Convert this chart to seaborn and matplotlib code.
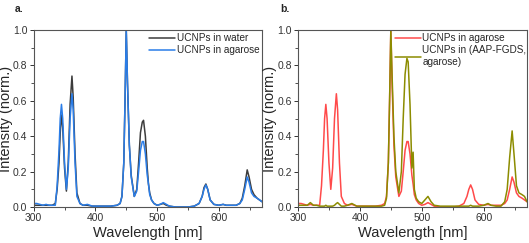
import matplotlib
matplotlib.use("Agg")
import matplotlib.pyplot as plt
from matplotlib.ticker import MultipleLocator
import seaborn as sns
import pandas as pd

# wavelength grid (nm)
wavelength = [300, 305, 310, 315, 320, 325, 330, 335, 338, 341, 343, 345, 347, 350, 353, 356, 359, 362,
              364, 367, 370, 375, 380, 387, 395, 405, 415, 425, 435, 440, 443, 446, 448, 450, 452, 455,
              458, 463, 467, 470, 473, 476, 478, 481, 484, 486, 488, 491, 495, 500, 505, 510, 515, 520,
              530, 540, 550, 560, 568, 573, 576, 579, 582, 586, 592, 600, 607, 612, 620, 628, 634, 638,
              642, 646, 649, 653, 657, 662, 666, 670]

ucnp_water = [0.01, 0.01, 0.01, 0.01, 0.01, 0.01, 0.01, 0.02, 0.10, 0.25, 0.42, 0.52, 0.45, 0.22, 0.09, 0.25, 0.58, 0.74,
              0.62, 0.30, 0.08, 0.02, 0.01, 0.01, 0.005, 0.005, 0.005, 0.005, 0.01, 0.02, 0.06, 0.25, 0.60, 1.0, 0.70, 0.35,
              0.18, 0.06, 0.10, 0.25, 0.42, 0.48, 0.49, 0.40, 0.22, 0.13, 0.08, 0.04, 0.02, 0.01, 0.015, 0.02, 0.01, 0.005,
              0.0, 0.0, 0.0, 0.005, 0.02, 0.06, 0.11, 0.13, 0.10, 0.04, 0.015, 0.01, 0.015, 0.01, 0.01, 0.01, 0.02, 0.05,
              0.12, 0.21, 0.17, 0.10, 0.07, 0.05, 0.04, 0.03]

ucnp_agarose = [0.02, 0.02, 0.015, 0.01, 0.015, 0.01, 0.01, 0.01, 0.12, 0.32, 0.50, 0.58, 0.50, 0.25, 0.10, 0.22, 0.50, 0.64,
                0.55, 0.25, 0.06, 0.02, 0.01, 0.015, 0.005, 0.005, 0.005, 0.005, 0.01, 0.02, 0.06, 0.25, 0.60, 1.0, 0.70, 0.35,
                0.17, 0.06, 0.09, 0.20, 0.32, 0.37, 0.37, 0.30, 0.18, 0.13, 0.07, 0.04, 0.02, 0.01, 0.015, 0.025, 0.015, 0.005,
                0.0, 0.0, 0.0, 0.005, 0.02, 0.06, 0.10, 0.125, 0.10, 0.04, 0.015, 0.01, 0.015, 0.01, 0.01, 0.01, 0.02, 0.04,
                0.10, 0.17, 0.14, 0.08, 0.06, 0.05, 0.04, 0.03]

ucnp_aap = [0.01, 0.01, 0.01, 0.01, 0.025, 0.01, 0.01, 0.005, 0.005, 0.005, 0.005, 0.01, 0.005, 0.005, 0.005, 0.005, 0.01, 0.02,
            0.025, 0.015, 0.005, 0.005, 0.01, 0.02, 0.005, 0.005, 0.005, 0.005, 0.005, 0.01, 0.05, 0.25, 0.60, 1.0, 0.75, 0.40,
            0.20, 0.08, 0.20, 0.50, 0.75, 0.84, 0.82, 0.58, 0.22, 0.31, 0.10, 0.05, 0.03, 0.02, 0.04, 0.06, 0.03, 0.01,
            0.005, 0.005, 0.005, 0.005, 0.005, 0.005, 0.005, 0.01, 0.005, 0.005, 0.005, 0.01, 0.02, 0.01, 0.005, 0.005, 0.03, 0.10,
            0.28, 0.43, 0.30, 0.12, 0.08, 0.07, 0.06, 0.03]

df = pd.DataFrame({"wl": wavelength, "water": ucnp_water, "agarose": ucnp_agarose, "aap": ucnp_aap})

sns.set_style("ticks")
plt.rcParams["font.family"] = ["Liberation Sans", "DejaVu Sans"]

fig = plt.figure(figsize=(5.29, 2.43), dpi=100)
ax_a = fig.add_axes([0.0637, 0.148, 0.4316, 0.7284])
ax_b = fig.add_axes([0.5633, 0.148, 0.4329, 0.7284])

sns.lineplot(data=df, x="wl", y="water", ax=ax_a, color="#3c3c3c", lw=1.1, label="UCNPs in water")
sns.lineplot(data=df, x="wl", y="agarose", ax=ax_a, color="#2a7de8", lw=1.1, label="UCNPs in agarose")

sns.lineplot(data=df, x="wl", y="agarose", ax=ax_b, color="#ff4a4a", lw=1.1, label="UCNPs in agarose")
sns.lineplot(data=df, x="wl", y="aap", ax=ax_b, color="#8c8c00", lw=1.1, label="UCNPs in (AAP-FGDS,\nagarose)")

for ax, anchor, ylab_x in [(ax_a, 0.476, -0.09), (ax_b, 0.392, -0.09)]:
    ax.set_xlim(300, 670)
    ax.set_ylim(0, 1.0)
    ax.xaxis.set_major_locator(MultipleLocator(100))
    ax.xaxis.set_minor_locator(MultipleLocator(50))
    ax.yaxis.set_major_locator(MultipleLocator(0.2))
    ax.yaxis.set_minor_locator(MultipleLocator(0.1))
    ax.yaxis.set_major_formatter(plt.FormatStrFormatter("%.1f"))
    ax.tick_params(which="major", length=3, width=0.7, labelsize=7.5, pad=1.5, colors="#333333")
    ax.tick_params(which="minor", length=2, width=0.6, colors="#333333")
    for s in ax.spines.values():
        s.set_color("#555555")
        s.set_linewidth(0.8)
    ax.set_xlabel("Wavelength [nm]", fontsize=10.5, labelpad=2)
    ax.set_ylabel("Intensity (norm.)", fontsize=10.5)
    ax.yaxis.set_label_coords(ylab_x, 0.5)
    ax.legend(loc="upper left", bbox_to_anchor=(anchor, 1.02), frameon=False, fontsize=7.2,
              handlelength=2.6, handletextpad=0.15, labelspacing=0.2, borderpad=0.2)

fig.text(0.028, 0.965, "a.", fontsize=7.5, fontweight="bold", va="center")
fig.text(0.530, 0.965, "b.", fontsize=7.5, fontweight="bold", va="center")

fig.savefig("out.png", dpi=100)
